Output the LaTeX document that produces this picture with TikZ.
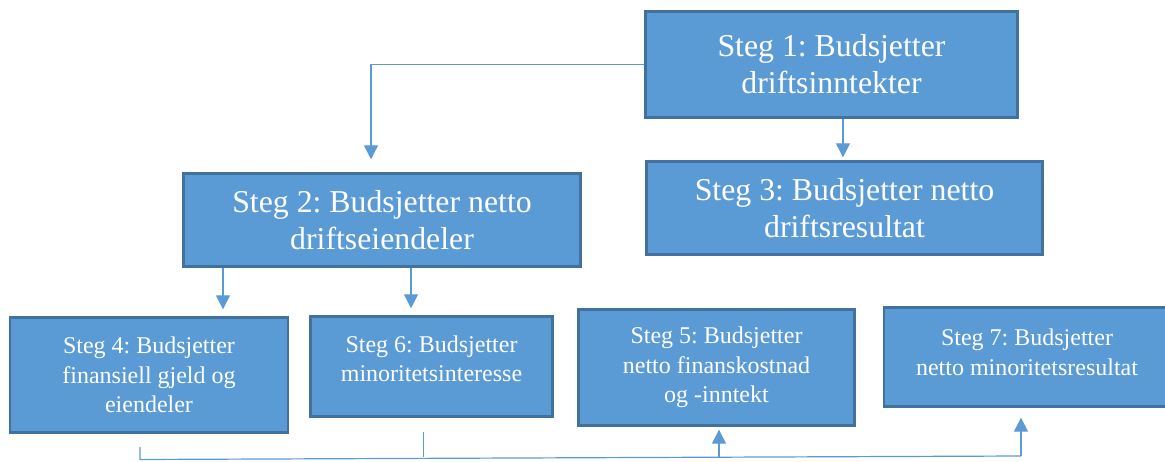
\documentclass[tikz,border=0pt]{standalone}
\usepackage{fontspec}
\setmainfont{Liberation Serif}
\frenchspacing
\usetikzlibrary{arrows.meta}
\definecolor{boxfill}{HTML}{5B9BD5}
\definecolor{boxline}{HTML}{41719C}
\definecolor{wire}{HTML}{5B9BD5}
\tikzset{
  stepbox/.style={rectangle, draw=boxline, fill=boxfill, line width=2.4pt,
    text=white, align=center, inner sep=0pt},
  bigstep/.style={stepbox, font=\fontsize{31.8}{37}\selectfont},
  smallstep/.style={stepbox, font=\fontsize{24}{29.5}\selectfont},
  flow/.style={draw=wire, line width=1.2pt},
  flowarrow/.style={flow, -{Triangle[width=14pt,length=14pt]}},
}
\begin{document}
\begin{tikzpicture}[x=1pt,y=1pt]
\useasboundingbox (0,0) rectangle (1165,461);

% upper level
\node[bigstep, minimum width=372pt, minimum height=106pt] (b1) at (831.5,396.5)
  {Steg 1: Budsjetter\\driftsinntekter};
\node[bigstep, minimum width=397pt, minimum height=93pt] (b2) at (382,241)
  {Steg 2: Budsjetter netto\\driftseiendeler};
\node[bigstep, minimum width=396pt, minimum height=93pt] (b3) at (844.5,253)
  {Steg 3: Budsjetter netto\\driftsresultat};

% lower level
\node[smallstep, minimum width=278pt, minimum height=115pt] (b4) at (149,86)
  {Steg 4: Budsjetter\\finansiell gjeld og\\eiendeler};
\node[smallstep, minimum width=242pt, minimum height=100pt, text depth=16pt] (b6) at (431.5,94.5)
  {Steg 6: Budsjetter\\minoritetsinteresse};
\node[smallstep, minimum width=276pt, minimum height=116pt] (b5) at (716.5,93.5)
  {Steg 5: Budsjetter\\netto finanskostnad\\og -inntekt};
\node[smallstep, minimum width=286pt, minimum height=99pt, text depth=10pt] (b7) at (1027,104)
  {Steg 7: Budsjetter\\netto minoritetsresultat};

% connectors from the upper boxes
\draw[flowarrow, shorten >=13pt] (b1.west) -| ([xshift=-11pt]b2.north);
\draw[flowarrow, shorten >=3pt] ([xshift=11.5pt]b1.south) -- ([xshift=-1.5pt]b3.north);
\draw[flowarrow, shorten >=7pt] ([xshift=-159pt]b2.south) -- ([xshift=-159pt]b2.south |- b4.north);
\draw[flowarrow, shorten >=7pt] ([xshift=29pt]b2.south) -- ([xshift=29pt]b2.south |- b6.north);

% collecting line along the bottom
\coordinate (t4) at (140,14);
\coordinate (l4) at (140,1.5);
\coordinate (t6a) at (423.5,29);
\coordinate (t6b) at (423.5,4);
\coordinate (l5) at (719,3.8);
\coordinate (l7) at (1021,5);
\draw[flow] (t4) -- (l4) -- (l7);
\draw[flow] (t6a) -- (t6b);
\draw[flowarrow, shorten >=3pt] (l5) -- (l5 |- b5.south);
\draw[flowarrow, shorten >=10pt] (l7) -- (l7 |- b7.south);
\end{tikzpicture}
\end{document}
